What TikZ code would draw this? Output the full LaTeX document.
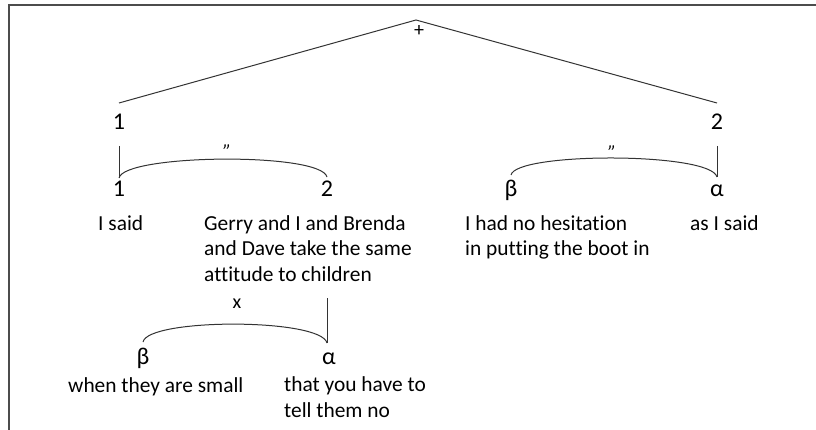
\documentclass[tikz,border=0pt]{standalone}
\usepackage{fontspec}
\setmainfont{Carlito}[Ligatures=CommonOff]
\usetikzlibrary{positioning}

\begin{document}
\begin{tikzpicture}[x=1pt,y=-1pt,
  ramo/.style={draw=black!80,line width=1pt},
  rotulo/.style={inner sep=0pt,anchor=base,font=\fontsize{24}{24}\selectfont},
  oracao/.style={inner sep=0pt,anchor=base west,align=left,font=\fontsize{21.4}{25.5}\selectfont},
  aspas/.style={inner sep=0pt,font=\fontsize{20}{20}\selectfont\itshape}]

\useasboundingbox (0,0) rectangle (816,430);

% moldura
\draw[gray!60!black,line width=1.5pt] (9,430) -- (9,5) -- (816,5);

% Raiz do complexo (+)
\coordinate (topo) at (416,20);
\node[inner sep=0pt,font=\fontsize{20}{20}\selectfont] (mais) at (419,31) {+};

\node[rotulo] (um) at (119,130) {1};
\node[rotulo] (dois) at (717,130) {2};
\coordinate (umTopo) at (119,103);
\coordinate (doisTopo) at (717,103);

\draw[ramo] (umTopo) -- (topo) -- (doisTopo);

% Lado esquerdo: 1 '' 2
\coordinate (umBase) at (119,146);
\coordinate (umA) at (119,178);
\coordinate (umB) at (327,177);
\draw[ramo] (umBase) -- (umA);
\draw[ramo] (umA) .. controls (124,154) and (321,152) .. (umB);
\node[aspas] (aspasA) at (227,152) {"};

\node[rotulo] (umUm) at (119,197) {1};
\node[rotulo] (umDois) at (327,197) {2};

% (base = linha de baixo do texto)
\node[oracao] (disse) at (98,231) {I said};
\node[oracao] (gerry) at (204,281) {Gerry and I and Brenda\\and Dave take the same\\attitude to children};

% Lado direito: beta '' alfa
\coordinate (doisBase) at (717,146);
\coordinate (doisA) at (717,177);
\coordinate (doisB) at (511,175);
\draw[ramo] (doisBase) -- (doisA);
\draw[ramo] (doisB) .. controls (516,152) and (711,152) .. (doisA);
\node[aspas] (aspasB) at (612,153) {"};

\node[rotulo] (doisBeta) at (511,197) {β};
\node[rotulo] (doisAlfa) at (717,197) {α};

\node[oracao] (hesitacao) at (465,256) {I had no hesitation\\in putting the boot in};
\node[oracao] (comoDisse) at (690,231) {as I said};

% Hipotaxe dentro de 2 (x)
\coordinate (gerryBase) at (327,298);
\coordinate (xA) at (327,343);
\coordinate (xB) at (143,342);
\draw[ramo] (gerryBase) -- (xA);
\draw[ramo] (xB) .. controls (148,318) and (321,318) .. (xA);
\node[inner sep=0pt,font=\fontsize{20}{20}\selectfont] (vezes) at (237,304) {x};

\node[rotulo] (xBeta) at (143,364) {β};
\node[rotulo] (xAlfa) at (329,364) {α};

\node[oracao] (pequenos) at (68,392) {when they are small};
\node[oracao] (dizerNao) at (284,417) {that you have to\\tell them no};

\end{tikzpicture}
\end{document}
